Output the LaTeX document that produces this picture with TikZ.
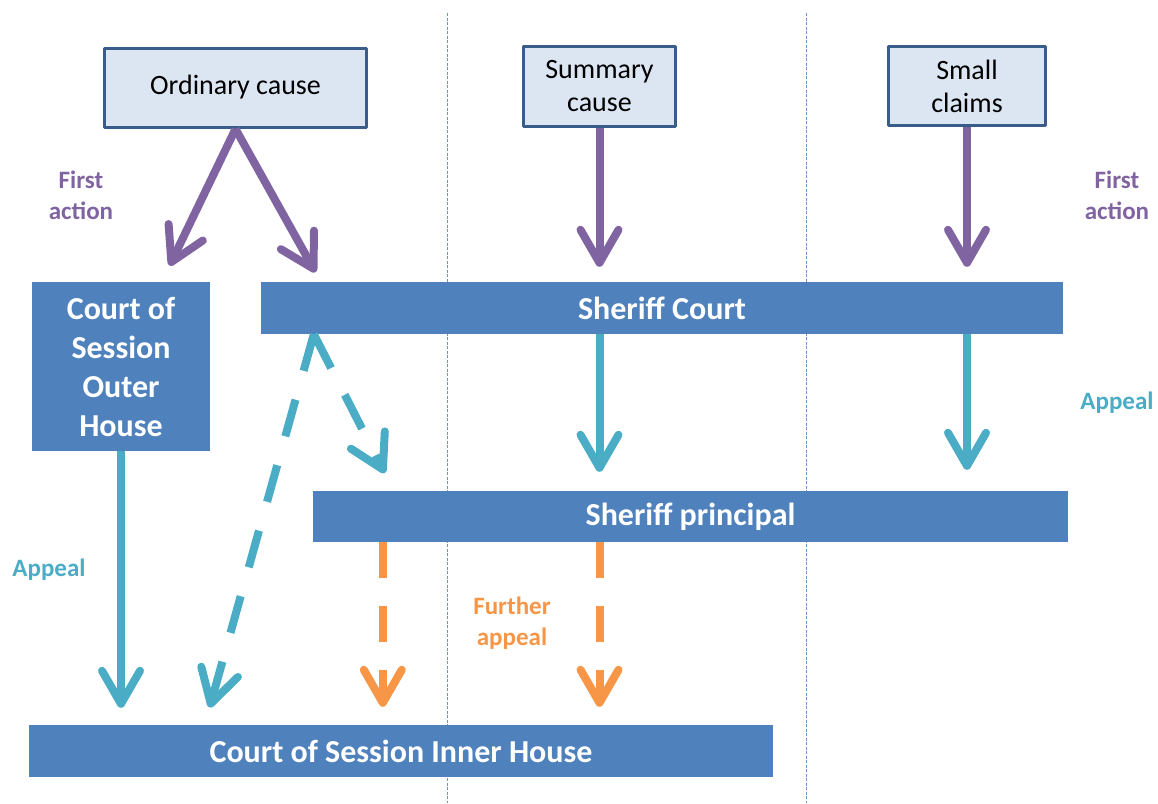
\documentclass[tikz,border=0pt]{standalone}
\usepackage{fontspec}
\setmainfont{Carlito}
\usetikzlibrary{arrows.meta}
\definecolor{boxfill}{HTML}{DCE6F2}
\definecolor{boxline}{HTML}{385D8A}
\definecolor{courtcol}{HTML}{4F81BD}
\definecolor{firstcol}{HTML}{8064A2}
\definecolor{appealcol}{HTML}{4BACC6}
\definecolor{furthercol}{HTML}{F79646}
\begin{document}
\begin{tikzpicture}[x=1pt,y=-1pt,line join=round,
  cause/.style={draw=boxline,fill=boxfill,line width=3pt,align=center,
    inner sep=0pt,font=\fontsize{28}{33}\selectfont},
  court/.style={fill=courtcol,text=white,align=center,inner sep=0pt,
    font=\bfseries\fontsize{32}{39}\selectfont},
  lbl/.style={align=center,inner sep=0pt,font=\bfseries\fontsize{25}{31}\selectfont},
  flow/.style={line width=8pt,-{Straight Barb[length=33pt,width=38pt,round]}},
  first/.style={flow,firstcol},
  appeal/.style={flow,appealcol},
  further/.style={flow,furthercol,dash pattern=on 36pt off 28pt},
  sep/.style={draw=courtcol!85,line width=1pt,dash pattern=on 3pt off 1.5pt}]
  \useasboundingbox (0,0) rectangle (1158,803);
  \draw[sep] (447,13) -- (447,803);
  \draw[sep] (806,13) -- (806,803);
  % how a case starts
  \node[cause,minimum width=262pt,minimum height=79pt] (ord) at (235.5,88) {\strut Ordinary cause};
  \node[cause,minimum width=152pt,minimum height=80pt] (sum) at (599.5,86.5) {Summary\\cause};
  \node[cause,minimum width=157pt,minimum height=79pt] (small) at (967,86) {Small\\claims};
  % courts
  \node[court,minimum width=178pt,minimum height=169pt] (outer) at (121,366.5) {Court of\\Session\\Outer\\House};
  \node[court,minimum width=802pt,minimum height=52pt] (sheriff) at (662,308) {Sheriff Court};
  \node[court,minimum width=755pt,minimum height=51pt] (principal) at (690.5,516.5) {Sheriff principal};
  \node[court,minimum width=744pt,minimum height=52pt] (inner) at (401,751) {Court of Session Inner House};
  % labels
  \node[lbl,text=firstcol] (act1) at (81,195) {First\\action};
  \node[lbl,text=firstcol] (act2) at (1117,195) {First\\action};
  \node[lbl,text=appealcol] (app1) at (1117,403) {Appeal};
  \node[lbl,text=appealcol] (app2) at (49,570) {Appeal};
  \node[lbl,text=furthercol] (furth) at (512,623) {Further\\appeal};
  \coordinate (sc) at ([xshift=53pt]sheriff.south west);
  \coordinate (pa) at ([xshift=70pt]principal.south west);
  % first action
  \draw[first,shorten >=18pt] (ord.south) -- ([xshift=130pt]outer.north west);
  \draw[first,shorten >=11pt] (ord.south) -- ([xshift=60pt]sheriff.north west);
  \draw[first,shorten >=15pt] (sum.south) -- (sum.south |- sheriff.north);
  \draw[first,shorten >=15pt] (small.south) -- (small.south |- sheriff.north);
  % appeals
  \draw[appeal,shorten >=19pt] (sum.south |- sheriff.south) -- (sum.south |- principal.north);
  \draw[appeal,shorten >=21pt] (small.south |- sheriff.south) -- (small.south |- principal.north);
  \draw[appeal,shorten >=17pt] (outer.south) -- (outer.south |- inner.north);
  \draw[appeal,dash pattern=on 38pt off 30pt,shorten >=18pt] (sc) -- ([xshift=176pt]inner.north west);
  \draw[appeal,dash pattern=on 38pt off 30pt,shorten >=20pt] (sc) -- ([xshift=81pt]principal.north west);
  % further appeal
  \draw[further,shorten >=18pt] (pa) -- (pa |- inner.north);
  \draw[further,shorten >=18pt] (sum.south |- principal.south) -- (sum.south |- inner.north);
\end{tikzpicture}
\end{document}
